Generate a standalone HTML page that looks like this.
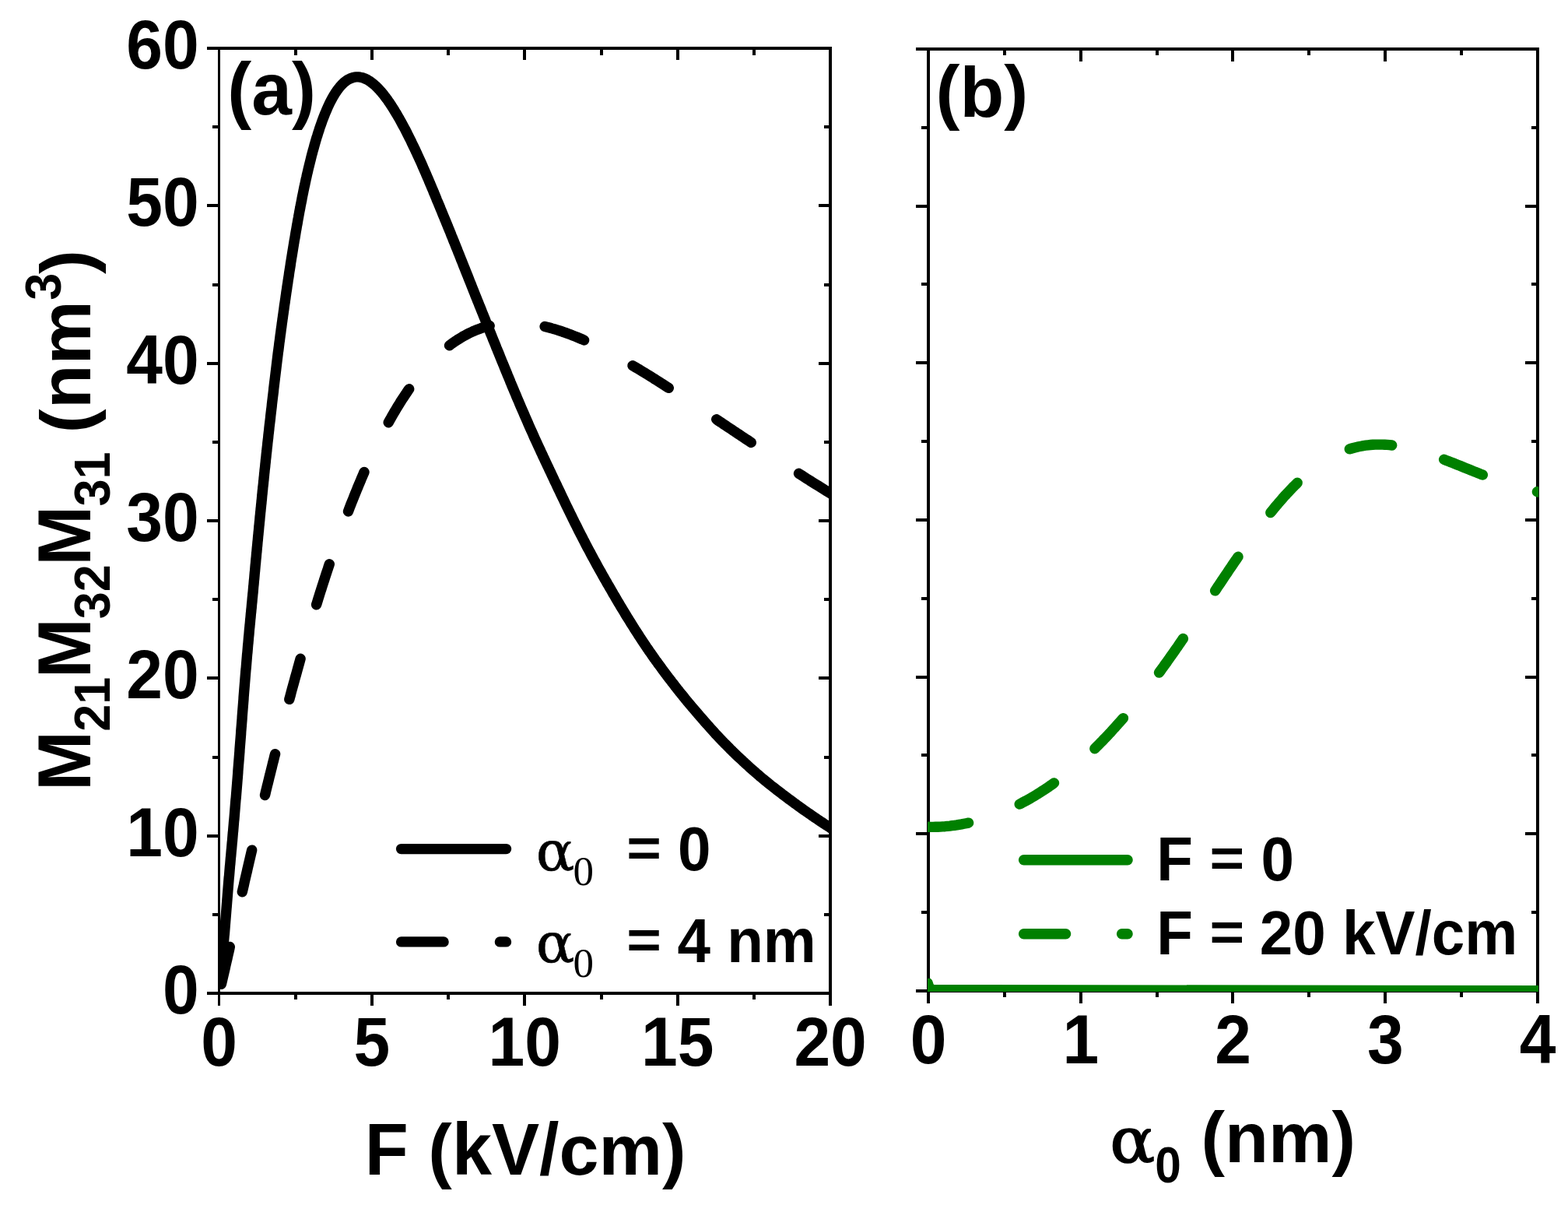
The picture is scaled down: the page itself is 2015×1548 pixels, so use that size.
<!DOCTYPE html>
<html lang="en"><head><meta charset="utf-8"><title>Figure: M21 M32 M31 versus F and alpha0</title>
<style>html,body{margin:0;padding:0;background:#fff;overflow:hidden}svg{display:block}text{font-family:"Liberation Sans",sans-serif;font-weight:bold;fill:#000;font-kerning:none;white-space:pre}.sy{font-family:"DejaVu Serif","Liberation Serif",serif;font-weight:normal}.syb{font-family:"DejaVu Serif","Liberation Serif",serif;font-weight:bold}.sr{font-family:"Liberation Serif",serif;font-weight:normal}.srb{font-family:"Liberation Serif",serif;font-weight:bold}</style></head><body>
<svg width="2015" height="1548" viewBox="0 0 2015 1548" role="img" aria-label="Two-panel plot of M21 M32 M31 (nm^3): (a) versus F (kV/cm), (b) versus alpha0 (nm)">
<rect width="2015" height="1548" fill="#fff"/>
<defs>
<clipPath id="ca"><rect x="283" y="64" width="782.2" height="1213.0"/></clipPath>
<clipPath id="cb"><rect x="1192" y="65" width="785.3" height="1209.0"/></clipPath>
</defs>
<g shape-rendering="crispEdges" fill="#000">
<rect x="280" y="60" width="3" height="1232"/>
<rect x="1065" y="60" width="4" height="1232"/>
<rect x="266" y="60" width="803" height="4"/>
<rect x="266" y="1274" width="803" height="4"/>
<rect x="378" y="60" width="4" height="11"/>
<rect x="378" y="1274" width="4" height="10"/>
<rect x="476" y="60" width="4" height="17"/>
<rect x="476" y="1274" width="4" height="18"/>
<rect x="574" y="60" width="4" height="11"/>
<rect x="574" y="1274" width="4" height="10"/>
<rect x="672" y="60" width="4" height="17"/>
<rect x="672" y="1274" width="4" height="18"/>
<rect x="771" y="60" width="4" height="11"/>
<rect x="771" y="1274" width="4" height="10"/>
<rect x="869" y="60" width="4" height="17"/>
<rect x="869" y="1274" width="4" height="18"/>
<rect x="967" y="60" width="4" height="11"/>
<rect x="967" y="1274" width="4" height="10"/>
<rect x="273" y="1173" width="10" height="4"/>
<rect x="1059" y="1173" width="10" height="4"/>
<rect x="266" y="1072" width="17" height="4"/>
<rect x="1052" y="1072" width="17" height="4"/>
<rect x="273" y="971" width="10" height="4"/>
<rect x="1059" y="971" width="10" height="4"/>
<rect x="266" y="869" width="17" height="4"/>
<rect x="1052" y="869" width="17" height="4"/>
<rect x="273" y="768" width="10" height="4"/>
<rect x="1059" y="768" width="10" height="4"/>
<rect x="266" y="667" width="17" height="4"/>
<rect x="1052" y="667" width="17" height="4"/>
<rect x="273" y="566" width="10" height="4"/>
<rect x="1059" y="566" width="10" height="4"/>
<rect x="266" y="465" width="17" height="4"/>
<rect x="1052" y="465" width="17" height="4"/>
<rect x="273" y="364" width="10" height="4"/>
<rect x="1059" y="364" width="10" height="4"/>
<rect x="266" y="262" width="17" height="4"/>
<rect x="1052" y="262" width="17" height="4"/>
<rect x="273" y="161" width="10" height="4"/>
<rect x="1059" y="161" width="10" height="4"/>
</g>
<g shape-rendering="crispEdges" fill="#000">
<rect x="1191" y="61" width="4" height="1228"/>
<rect x="1974" y="61" width="4" height="1228"/>
<rect x="1177" y="61" width="801" height="4"/>
<rect x="1177" y="1271" width="801" height="4"/>
<rect x="1289" y="61" width="4" height="10"/>
<rect x="1289" y="1271" width="4" height="10"/>
<rect x="1387" y="61" width="4" height="18"/>
<rect x="1387" y="1271" width="4" height="18"/>
<rect x="1485" y="61" width="4" height="10"/>
<rect x="1485" y="1271" width="4" height="10"/>
<rect x="1582" y="61" width="4" height="18"/>
<rect x="1582" y="1271" width="4" height="18"/>
<rect x="1680" y="61" width="4" height="10"/>
<rect x="1680" y="1271" width="4" height="10"/>
<rect x="1778" y="61" width="4" height="18"/>
<rect x="1778" y="1271" width="4" height="18"/>
<rect x="1876" y="61" width="4" height="10"/>
<rect x="1876" y="1271" width="4" height="10"/>
<rect x="1184" y="1170" width="11" height="4"/>
<rect x="1968" y="1170" width="10" height="4"/>
<rect x="1177" y="1069" width="18" height="4"/>
<rect x="1960" y="1069" width="18" height="4"/>
<rect x="1184" y="968" width="11" height="4"/>
<rect x="1968" y="968" width="10" height="4"/>
<rect x="1177" y="868" width="18" height="4"/>
<rect x="1960" y="868" width="18" height="4"/>
<rect x="1184" y="767" width="11" height="4"/>
<rect x="1968" y="767" width="10" height="4"/>
<rect x="1177" y="666" width="18" height="4"/>
<rect x="1960" y="666" width="18" height="4"/>
<rect x="1184" y="565" width="11" height="4"/>
<rect x="1968" y="565" width="10" height="4"/>
<rect x="1177" y="464" width="18" height="4"/>
<rect x="1960" y="464" width="18" height="4"/>
<rect x="1184" y="363" width="11" height="4"/>
<rect x="1968" y="363" width="10" height="4"/>
<rect x="1177" y="263" width="18" height="4"/>
<rect x="1960" y="263" width="18" height="4"/>
<rect x="1184" y="162" width="11" height="4"/>
<rect x="1968" y="162" width="10" height="4"/>
</g>
<g clip-path="url(#ca)" fill="none" stroke="#000" stroke-width="13.4" stroke-linejoin="round">
<path d="M284.4 1264.2 L285.1 1261.2 L285.8 1258.2 L286.5 1255.3 L287.2 1252.3 L287.9 1249.3 L288.6 1246.3 L289.3 1243.3 L289.9 1240.3 L290.6 1237.3 L291.3 1234.3 L292.0 1231.4 L292.6 1228.4 L293.3 1225.4 L294.0 1222.4 L294.7 1219.4 L295.3 1216.4 M311.3 1145.7 L312.0 1142.7 L312.7 1139.7 L313.4 1136.7 L314.0 1133.8 L314.7 1130.8 L315.4 1127.8 L316.1 1124.8 L316.8 1121.8 L317.5 1118.9 L318.1 1115.9 L318.8 1112.9 L319.5 1109.9 L320.2 1107.0 L320.9 1104.0 L321.6 1101.0 L322.3 1098.0 L323.0 1095.0 L323.7 1092.1 M340.5 1021.5 L341.2 1018.6 L341.9 1015.6 L342.6 1012.7 L343.3 1009.7 L344.1 1006.8 L344.8 1003.9 L345.5 1000.9 L346.2 998.0 L347.0 995.0 L347.7 992.1 L348.4 989.2 L349.2 986.2 L349.9 983.3 L350.6 980.3 L351.4 977.4 L352.1 974.5 L352.8 971.5 L353.6 968.6 M371.8 898.4 L372.6 895.5 L373.4 892.6 L374.1 889.7 L374.9 886.8 L375.7 883.9 L376.5 881.0 L377.3 878.1 L378.1 875.2 L378.9 872.3 L379.7 869.4 L380.5 866.6 L381.3 863.7 L382.1 860.8 L382.9 857.9 L383.7 855.0 L384.5 852.1 L385.3 849.2 L386.1 846.3 M406.6 776.8 L407.5 773.9 L408.4 771.0 L409.3 768.1 L410.2 765.2 L411.1 762.3 L412.0 759.4 L413.0 756.5 L413.9 753.6 L414.8 750.8 L415.7 747.9 L416.7 745.0 L417.6 742.1 L418.5 739.2 L419.5 736.3 L420.4 733.5 L421.4 730.6 L422.3 727.7 L423.3 724.8 M447.5 657.0 L448.5 654.2 L449.6 651.4 L450.7 648.5 L451.8 645.7 L453.0 642.9 L454.1 640.1 L455.2 637.3 L456.3 634.5 L457.5 631.7 L458.6 628.8 L459.8 626.0 L460.9 623.2 L462.1 620.5 L463.3 617.7 L464.4 614.9 L465.6 612.1 L466.8 609.3 L468.0 606.5 M499.2 542.7 L500.7 540.0 L502.3 537.2 L503.8 534.5 L505.4 531.7 L507.0 529.0 L508.6 526.3 L510.2 523.6 L511.9 520.9 L513.6 518.2 L515.2 515.5 L516.9 512.9 L518.7 510.2 L520.4 507.6 L522.2 505.0 L523.9 502.4 L525.7 499.8 M577.5 443.8 L579.9 442.0 L582.4 440.2 L584.9 438.5 L587.5 436.8 L590.1 435.2 L592.7 433.6 L595.3 432.0 L598.0 430.6 L600.7 429.1 L603.4 427.8 L606.2 426.5 L609.0 425.2 L611.8 424.1 L614.6 423.0 L617.5 421.9 L620.4 420.9 L623.3 420.0 L626.3 419.2 L629.2 418.5 M700.1 419.5 L703.1 420.2 L706.2 421.0 L709.2 421.9 L712.2 422.7 L715.2 423.6 L718.3 424.6 L721.2 425.5 L724.2 426.6 L727.2 427.6 L730.2 428.7 L733.1 429.8 L736.0 430.9 L739.0 432.1 L741.9 433.3 L744.8 434.5 L747.7 435.7 L750.6 437.0 M813.0 469.7 L815.6 471.2 L818.2 472.8 L820.8 474.3 L823.4 475.9 L826.0 477.5 L828.6 479.0 L831.2 480.6 L833.7 482.2 L836.3 483.8 L838.9 485.4 L841.4 487.0 L844.0 488.6 L846.6 490.2 L849.1 491.9 L851.7 493.5 L854.2 495.1 L856.8 496.8 L859.3 498.4 M920.7 538.8 L923.4 540.6 L926.0 542.3 L928.6 544.1 L931.2 545.8 L933.8 547.6 L936.5 549.3 L939.1 551.0 L941.7 552.8 L944.3 554.5 L946.9 556.3 L949.6 558.0 L952.2 559.8 L954.8 561.5 L957.4 563.3 L960.1 565.0 L962.7 566.7 L965.3 568.5 M1026.5 608.3 L1029.0 609.9 L1031.6 611.5 L1034.1 613.2 L1036.6 614.8 L1039.2 616.4 L1041.7 618.0 L1044.2 619.6 L1046.8 621.2 L1049.3 622.7 L1051.9 624.3 L1054.4 625.9 L1057.0 627.5 L1059.5 629.1 L1062.1 630.7 L1064.6 632.2 L1067.2 633.8 L1069.7 635.4 L1072.3 637.0 L1074.9 638.5" stroke-linecap="round"/>
<path d="M284.0 1249.6 L284.2 1247.1 L284.5 1244.6 L284.7 1242.1 L284.9 1239.6 L285.1 1237.2 L285.3 1234.7 L285.5 1232.2 L285.8 1229.7 L286.0 1227.2 L286.2 1224.7 L286.4 1222.2 L286.6 1219.7 L286.9 1217.2 L287.1 1214.7 L287.3 1212.2 L287.5 1209.7 L287.7 1207.2 L287.9 1204.8 L288.1 1202.3 L288.4 1199.8 L288.6 1197.3 L288.8 1194.8 L289.0 1192.3 L289.2 1189.8 L289.4 1187.3 L289.6 1184.8 L289.8 1182.3 L290.0 1179.8 L290.2 1177.3 L290.4 1174.8 L290.6 1172.3 L290.8 1169.8 L291.0 1167.3 L291.2 1164.9 L291.4 1162.4 L291.6 1159.9 L291.8 1157.4 L292.0 1154.9 L292.2 1152.4 L292.4 1149.9 L292.6 1147.4 L292.8 1144.9 L293.0 1142.4 L293.2 1139.9 L293.4 1137.4 L293.6 1134.9 L293.8 1132.4 L294.0 1129.9 L294.2 1127.4 L294.5 1125.0 L294.7 1122.5 L294.9 1120.0 L295.1 1117.5 L295.3 1115.0 L295.5 1112.5 L295.8 1110.0 L296.0 1107.5 L296.2 1105.0 L296.4 1102.5 L296.7 1100.0 L296.9 1097.5 L297.1 1095.0 L297.3 1092.6 L297.6 1090.1 L297.8 1087.6 L298.0 1085.1 L298.2 1082.6 L298.5 1080.1 L298.7 1077.6 L298.9 1075.1 L299.1 1072.6 L299.3 1070.1 L299.6 1067.6 L299.8 1065.1 L300.0 1062.6 L300.2 1060.2 L300.4 1057.7 L300.6 1055.2 L300.9 1052.7 L301.1 1050.2 L301.3 1047.7 L301.5 1045.2 L301.7 1042.7 L301.9 1040.2 L302.1 1037.7 L302.3 1035.2 L302.5 1032.7 L302.7 1030.2 L302.9 1027.7 L303.2 1025.2 L303.4 1022.8 L303.6 1020.3 L303.8 1017.8 L304.0 1015.3 L304.2 1012.8 L304.4 1010.3 L304.6 1007.8 L304.8 1005.3 L305.0 1002.8 L305.2 1000.3 L305.4 997.8 L305.6 995.3 L305.8 992.8 L305.9 990.3 L306.1 987.8 L306.3 985.3 L306.5 982.8 L306.7 980.4 L306.9 977.9 L307.1 975.4 L307.3 972.9 L307.5 970.4 L307.7 967.9 L307.9 965.4 L308.0 962.9 L308.2 960.4 L308.4 957.9 L308.6 955.4 L308.8 952.9 L309.0 950.4 L309.2 947.9 L309.4 945.4 L309.6 942.9 L309.7 940.4 L309.9 937.9 L310.1 935.4 L310.3 933.0 L310.5 930.5 L310.7 928.0 L310.9 925.5 L311.1 923.0 L311.2 920.5 L311.4 918.0 L311.6 915.5 L311.8 913.0 L312.0 910.5 L312.2 908.0 L312.4 905.5 L312.6 903.0 L312.8 900.5 L313.0 898.0 L313.1 895.5 L313.3 893.0 L313.5 890.5 L313.7 888.0 L313.9 885.6 L314.1 883.1 L314.3 880.6 L314.5 878.1 L314.7 875.6 L314.9 873.1 L315.1 870.6 L315.3 868.1 L315.5 865.6 L315.7 863.1 L315.9 860.6 L316.2 858.1 L316.4 855.6 L316.6 853.1 L316.8 850.6 L317.0 848.1 L317.2 845.7 L317.4 843.2 L317.6 840.7 L317.9 838.2 L318.1 835.7 L318.3 833.2 L318.5 830.7 L318.7 828.2 L319.0 825.7 L319.2 823.2 L319.4 820.7 L319.6 818.2 L319.9 815.7 L320.1 813.3 L320.3 810.8 L320.5 808.3 L320.8 805.8 L321.0 803.3 L321.3 800.8 L321.5 798.3 L321.7 795.8 L322.0 793.3 L322.2 790.8 L322.4 788.3 L322.7 785.9 L322.9 783.4 L323.2 780.9 L323.4 778.4 L323.6 775.9 L323.9 773.4 L324.1 770.9 L324.3 768.4 L324.6 765.9 L324.8 763.4 L325.1 760.9 L325.3 758.5 L325.5 756.0 L325.7 753.5 L326.0 751.0 L326.2 748.5 L326.4 746.0 L326.7 743.5 L326.9 741.0 L327.1 738.5 L327.3 736.0 L327.6 733.5 L327.8 731.0 L328.0 728.6 L328.2 726.1 L328.5 723.6 L328.7 721.1 L328.9 718.6 L329.2 716.1 L329.4 713.6 L329.6 711.1 L329.9 708.6 L330.1 706.1 L330.3 703.6 L330.6 701.2 L330.8 698.7 L331.0 696.2 L331.3 693.7 L331.5 691.2 L331.7 688.7 L332.0 686.2 L332.2 683.7 L332.5 681.2 L332.7 678.7 L332.9 676.2 L333.2 673.8 L333.4 671.3 L333.7 668.8 L333.9 666.3 L334.1 663.8 L334.4 661.3 L334.6 658.8 L334.9 656.3 L335.1 653.8 L335.4 651.3 L335.6 648.9 L335.9 646.4 L336.1 643.9 L336.4 641.4 L336.6 638.9 L336.8 636.4 L337.1 633.9 L337.3 631.4 L337.6 628.9 L337.8 626.4 L338.1 624.0 L338.4 621.5 L338.6 619.0 L338.9 616.5 L339.1 614.0 L339.4 611.5 L339.6 609.0 L339.9 606.5 L340.1 604.0 L340.4 601.6 L340.7 599.1 L340.9 596.6 L341.2 594.1 L341.4 591.6 L341.7 589.1 L342.0 586.6 L342.2 584.1 L342.5 581.6 L342.8 579.2 L343.0 576.7 L343.3 574.2 L343.6 571.7 L343.8 569.2 L344.1 566.7 L344.4 564.2 L344.7 561.8 L344.9 559.3 L345.2 556.8 L345.5 554.3 L345.8 551.8 L346.0 549.3 L346.3 546.8 L346.6 544.3 L346.9 541.9 L347.2 539.4 L347.5 536.9 L347.7 534.4 L348.0 531.9 L348.3 529.4 L348.6 526.9 L348.9 524.5 L349.2 522.0 L349.4 519.5 L349.7 517.0 L350.0 514.5 L350.3 512.0 L350.6 509.5 L350.9 507.1 L351.2 504.6 L351.5 502.1 L351.7 499.6 L352.0 497.1 L352.3 494.6 L352.6 492.1 L352.9 489.7 L353.2 487.2 L353.5 484.7 L353.8 482.2 L354.1 479.7 L354.4 477.2 L354.7 474.8 L355.0 472.3 L355.3 469.8 L355.6 467.3 L355.9 464.8 L356.2 462.3 L356.5 459.9 L356.8 457.4 L357.1 454.9 L357.4 452.4 L357.8 449.9 L358.1 447.4 L358.4 445.0 L358.7 442.5 L359.0 440.0 L359.4 437.5 L359.7 435.0 L360.0 432.6 L360.3 430.1 L360.7 427.6 L361.0 425.1 L361.3 422.6 L361.7 420.2 L362.0 417.7 L362.3 415.2 L362.7 412.7 L363.0 410.2 L363.4 407.8 L363.7 405.3 L364.1 402.8 L364.4 400.3 L364.8 397.8 L365.1 395.4 L365.4 392.9 L365.8 390.4 L366.2 387.9 L366.5 385.5 L366.9 383.0 L367.2 380.5 L367.6 378.0 L367.9 375.6 L368.3 373.1 L368.7 370.6 L369.0 368.1 L369.4 365.7 L369.8 363.2 L370.1 360.7 L370.5 358.2 L370.9 355.8 L371.3 353.3 L371.6 350.8 L372.0 348.3 L372.4 345.9 L372.8 343.4 L373.2 340.9 L373.5 338.4 L373.9 336.0 L374.3 333.5 L374.7 331.0 L375.1 328.6 L375.5 326.1 L375.9 323.6 L376.3 321.2 L376.7 318.7 L377.1 316.2 L377.5 313.7 L377.9 311.3 L378.3 308.8 L378.8 306.3 L379.2 303.9 L379.6 301.4 L380.0 298.9 L380.4 296.5 L380.9 294.0 L381.3 291.5 L381.7 289.1 L382.2 286.6 L382.6 284.2 L383.0 281.7 L383.5 279.2 L383.9 276.8 L384.4 274.3 L384.8 271.8 L385.3 269.4 L385.8 266.9 L386.2 264.5 L386.7 262.0 L387.2 259.6 L387.7 257.1 L388.1 254.6 L388.6 252.2 L389.1 249.7 L389.6 247.3 L390.1 244.8 L390.6 242.4 L391.1 239.9 L391.7 237.5 L392.2 235.0 L392.7 232.6 L393.2 230.2 L393.8 227.7 L394.3 225.3 L394.9 222.8 L395.5 220.4 L396.0 218.0 L396.6 215.5 L397.2 213.1 L397.8 210.7 L398.4 208.2 L399.0 205.8 L399.6 203.4 L400.2 200.9 L400.8 198.5 L401.5 196.1 L402.1 193.7 L402.8 191.3 L403.5 188.9 L404.1 186.5 L404.8 184.1 L405.5 181.6 L406.2 179.3 L406.9 176.9 L407.7 174.5 L408.4 172.1 L409.2 169.7 L410.0 167.3 L410.7 164.9 L411.5 162.6 L412.4 160.2 L413.2 157.8 L414.0 155.5 L414.9 153.1 L415.8 150.8 L416.7 148.5 L417.6 146.1 L418.6 143.8 L419.6 141.5 L420.6 139.2 L421.6 136.9 L422.6 134.7 L423.7 132.4 L424.8 130.2 L426.0 128.0 L427.2 125.8 L428.4 123.6 L429.7 121.5 L431.0 119.3 L432.4 117.3 L433.9 115.2 L435.4 113.2 L437.0 111.3 L438.7 109.4 L440.4 107.6 L442.2 105.9 L444.2 104.4 L446.2 102.9 L448.4 101.7 L450.7 100.6 L453.0 99.8 L455.5 99.2 L457.9 98.9 L460.4 98.9 L462.9 99.2 L465.4 99.7 L467.7 100.5 L470.1 101.5 L472.3 102.6 L474.4 103.9 L476.5 105.3 L478.5 106.8 L480.4 108.4 L482.3 110.0 L484.1 111.8 L485.9 113.6 L487.6 115.4 L489.2 117.2 L490.9 119.2 L492.5 121.1 L494.0 123.1 L495.5 125.0 L497.0 127.1 L498.5 129.1 L499.9 131.2 L501.3 133.2 L502.7 135.3 L504.0 137.4 L505.4 139.5 L506.7 141.6 L508.0 143.8 L509.3 145.9 L510.6 148.1 L511.8 150.2 L513.1 152.4 L514.3 154.6 L515.5 156.8 L516.7 159.0 L517.9 161.2 L519.1 163.4 L520.3 165.6 L521.4 167.8 L522.6 170.0 L523.7 172.3 L524.8 174.5 L525.9 176.7 L527.1 179.0 L528.2 181.2 L529.2 183.5 L530.3 185.7 L531.4 188.0 L532.5 190.2 L533.6 192.5 L534.6 194.8 L535.7 197.0 L536.7 199.3 L537.8 201.6 L538.8 203.9 L539.8 206.1 L540.9 208.4 L541.9 210.7 L542.9 213.0 L543.9 215.3 L544.9 217.6 L545.9 219.9 L546.9 222.2 L547.9 224.5 L548.9 226.8 L549.9 229.1 L550.9 231.4 L551.8 233.7 L552.8 236.0 L553.8 238.3 L554.7 240.6 L555.7 242.9 L556.7 245.2 L557.6 247.5 L558.6 249.8 L559.5 252.1 L560.5 254.4 L561.4 256.8 L562.4 259.1 L563.4 261.4 L564.3 263.7 L565.3 266.0 L566.2 268.3 L567.2 270.6 L568.1 272.9 L569.1 275.3 L570.0 277.6 L571.0 279.9 L571.9 282.2 L572.9 284.5 L573.8 286.8 L574.8 289.2 L575.7 291.5 L576.7 293.8 L577.6 296.1 L578.6 298.4 L579.5 300.7 L580.4 303.1 L581.4 305.4 L582.3 307.7 L583.2 310.0 L584.2 312.3 L585.1 314.7 L586.0 317.0 L587.0 319.3 L587.9 321.6 L588.8 324.0 L589.8 326.3 L590.7 328.6 L591.6 330.9 L592.5 333.2 L593.5 335.6 L594.4 337.9 L595.3 340.2 L596.2 342.5 L597.2 344.9 L598.1 347.2 L599.0 349.5 L599.9 351.8 L600.9 354.2 L601.8 356.5 L602.7 358.8 L603.6 361.1 L604.6 363.5 L605.5 365.8 L606.4 368.1 L607.3 370.4 L608.3 372.8 L609.2 375.1 L610.1 377.4 L611.0 379.7 L612.0 382.1 L612.9 384.4 L613.8 386.7 L614.8 389.0 L615.7 391.4 L616.6 393.7 L617.6 396.0 L618.5 398.3 L619.4 400.6 L620.4 403.0 L621.3 405.3 L622.2 407.6 L623.2 409.9 L624.1 412.3 L625.0 414.6 L626.0 416.9 L626.9 419.2 L627.8 421.5 L628.8 423.9 L629.7 426.2 L630.6 428.5 L631.6 430.8 L632.5 433.1 L633.4 435.5 L634.4 437.8 L635.3 440.1 L636.3 442.4 L637.2 444.7 L638.1 447.1 L639.1 449.4 L640.0 451.7 L641.0 454.0 L641.9 456.3 L642.8 458.6 L643.8 461.0 L644.7 463.3 L645.7 465.6 L646.6 467.9 L647.6 470.2 L648.5 472.5 L649.5 474.9 L650.4 477.2 L651.4 479.5 L652.3 481.8 L653.3 484.1 L654.2 486.4 L655.2 488.7 L656.1 491.1 L657.1 493.4 L658.0 495.7 L659.0 498.0 L660.0 500.3 L660.9 502.6 L661.9 504.9 L662.9 507.2 L663.8 509.5 L664.8 511.8 L665.8 514.1 L666.8 516.4 L667.7 518.7 L668.7 521.0 L669.7 523.3 L670.7 525.6 L671.7 527.9 L672.7 530.2 L673.7 532.5 L674.7 534.8 L675.7 537.1 L676.7 539.4 L677.7 541.7 L678.7 544.0 L679.7 546.3 L680.7 548.6 L681.7 550.9 L682.7 553.1 L683.8 555.4 L684.8 557.7 L685.8 560.0 L686.8 562.3 L687.9 564.6 L688.9 566.8 L690.0 569.1 L691.0 571.4 L692.0 573.6 L693.1 575.9 L694.2 578.2 L695.2 580.5 L696.3 582.7 L697.3 585.0 L698.4 587.3 L699.5 589.5 L700.5 591.8 L701.6 594.1 L702.6 596.3 L703.7 598.6 L704.8 600.8 L705.8 603.1 L706.9 605.4 L708.0 607.6 L709.0 609.9 L710.1 612.2 L711.2 614.4 L712.2 616.7 L713.3 618.9 L714.4 621.2 L715.5 623.5 L716.5 625.7 L717.6 628.0 L718.7 630.2 L719.8 632.5 L720.8 634.8 L721.9 637.0 L723.0 639.3 L724.1 641.5 L725.2 643.8 L726.2 646.0 L727.3 648.3 L728.4 650.6 L729.5 652.8 L730.6 655.1 L731.7 657.3 L732.8 659.6 L733.9 661.8 L735.0 664.0 L736.1 666.3 L737.2 668.5 L738.3 670.8 L739.4 673.0 L740.6 675.2 L741.7 677.5 L742.8 679.7 L743.9 682.0 L745.1 684.2 L746.2 686.4 L747.3 688.6 L748.5 690.9 L749.6 693.1 L750.8 695.3 L751.9 697.5 L753.1 699.8 L754.2 702.0 L755.4 704.2 L756.6 706.4 L757.8 708.6 L758.9 710.8 L760.1 713.0 L761.3 715.2 L762.5 717.4 L763.7 719.6 L764.9 721.8 L766.1 724.0 L767.3 726.2 L768.5 728.4 L769.7 730.6 L771.0 732.8 L772.2 734.9 L773.4 737.1 L774.6 739.3 L775.9 741.5 L777.1 743.7 L778.3 745.8 L779.6 748.0 L780.8 750.2 L782.1 752.3 L783.3 754.5 L784.6 756.7 L785.8 758.8 L787.1 761.0 L788.3 763.2 L789.6 765.3 L790.9 767.5 L792.1 769.6 L793.4 771.8 L794.7 774.0 L796.0 776.1 L797.2 778.3 L798.5 780.4 L799.8 782.5 L801.1 784.7 L802.4 786.8 L803.7 789.0 L805.0 791.1 L806.3 793.2 L807.6 795.3 L809.0 797.5 L810.3 799.6 L811.6 801.7 L812.9 803.8 L814.3 806.0 L815.6 808.1 L817.0 810.2 L818.3 812.3 L819.7 814.4 L821.0 816.5 L822.4 818.6 L823.8 820.7 L825.1 822.8 L826.5 824.9 L827.9 826.9 L829.3 829.0 L830.7 831.1 L832.1 833.2 L833.5 835.2 L834.9 837.3 L836.4 839.3 L837.8 841.4 L839.2 843.4 L840.7 845.5 L842.1 847.5 L843.6 849.6 L845.1 851.6 L846.5 853.6 L848.0 855.6 L849.5 857.6 L851.0 859.7 L852.5 861.7 L854.0 863.7 L855.5 865.7 L857.0 867.7 L858.5 869.7 L860.0 871.7 L861.5 873.6 L863.0 875.6 L864.6 877.6 L866.1 879.6 L867.6 881.6 L869.2 883.5 L870.7 885.5 L872.3 887.4 L873.8 889.4 L875.4 891.4 L877.0 893.3 L878.6 895.3 L880.1 897.2 L881.7 899.1 L883.3 901.1 L884.9 903.0 L886.5 904.9 L888.1 906.8 L889.7 908.7 L891.4 910.6 L893.0 912.5 L894.6 914.4 L896.2 916.3 L897.9 918.2 L899.5 920.1 L901.2 922.0 L902.8 923.9 L904.4 925.8 L906.1 927.7 L907.7 929.5 L909.4 931.4 L911.1 933.3 L912.7 935.2 L914.4 937.0 L916.1 938.9 L917.8 940.7 L919.4 942.6 L921.1 944.4 L922.8 946.2 L924.6 948.1 L926.3 949.9 L928.0 951.7 L929.8 953.5 L931.5 955.3 L933.3 957.1 L935.0 958.8 L936.8 960.6 L938.6 962.4 L940.3 964.1 L942.1 965.9 L943.9 967.6 L945.7 969.4 L947.5 971.1 L949.3 972.8 L951.2 974.5 L953.0 976.2 L954.8 977.9 L956.7 979.6 L958.5 981.3 L960.4 983.0 L962.2 984.7 L964.1 986.4 L965.9 988.0 L967.8 989.7 L969.7 991.3 L971.6 993.0 L973.5 994.6 L975.4 996.2 L977.3 997.9 L979.2 999.5 L981.1 1001.1 L983.1 1002.7 L985.0 1004.2 L986.9 1005.8 L988.9 1007.4 L990.8 1009.0 L992.8 1010.5 L994.8 1012.1 L996.7 1013.6 L998.7 1015.2 L1000.7 1016.7 L1002.7 1018.2 L1004.7 1019.7 L1006.6 1021.2 L1008.6 1022.7 L1010.6 1024.2 L1012.6 1025.7 L1014.7 1027.2 L1016.7 1028.7 L1018.7 1030.2 L1020.7 1031.7 L1022.7 1033.1 L1024.8 1034.6 L1026.8 1036.1 L1028.8 1037.5 L1030.9 1039.0 L1032.9 1040.4 L1035.0 1041.9 L1037.0 1043.3 L1039.1 1044.7 L1041.1 1046.1 L1043.2 1047.6 L1045.3 1049.0 L1047.3 1050.4 L1049.4 1051.8 L1051.5 1053.2 L1053.5 1054.6 L1055.6 1056.0 L1057.7 1057.3 L1059.8 1058.7 L1061.9 1060.1 L1064.0 1061.4 L1066.1 1062.8 L1068.2 1064.2 L1070.3 1065.5 L1072.4 1066.9" stroke-linecap="round"/>
</g>
<g clip-path="url(#cb)" fill="none" stroke="#008000" stroke-width="13.4" stroke-linejoin="round">
<path d="M1192 1273.95 V1256.9 H1195.7 L1196.9 1258 L1198.1 1259.8 L1199 1262.2 L1199.6 1264.2 L1200.5 1265 L1977.3 1265.9 V1273.95 Z" fill="#008000" stroke="none"/>
<path d="M1193.0 1062.3 L1196.1 1062.4 L1199.1 1062.4 L1202.2 1062.3 L1205.2 1062.2 L1208.3 1062.1 L1211.4 1061.9 L1214.4 1061.7 L1217.5 1061.4 L1220.5 1061.1 L1223.5 1060.7 L1226.6 1060.3 L1229.6 1059.9 L1232.6 1059.4 L1235.6 1058.9 L1238.6 1058.3 L1241.6 1057.7 L1244.6 1057.1 M1310.2 1033.1 L1312.9 1031.7 L1315.6 1030.2 L1318.3 1028.8 L1321.0 1027.3 L1323.7 1025.8 L1326.3 1024.3 L1329.0 1022.7 L1331.6 1021.1 L1334.2 1019.5 L1336.8 1017.9 L1339.4 1016.2 L1341.9 1014.6 L1344.5 1012.9 L1347.0 1011.2 L1349.5 1009.4 L1352.0 1007.7 L1354.5 1005.9 M1406.8 961.7 L1409.0 959.5 L1411.3 957.2 L1413.5 955.0 L1415.7 952.8 L1417.9 950.5 L1420.1 948.2 L1422.3 946.0 L1424.4 943.7 L1426.6 941.4 L1428.7 939.1 L1430.8 936.7 L1432.9 934.4 L1435.0 932.1 L1437.1 929.7 L1439.2 927.3 L1441.3 925.0 L1443.4 922.6 M1489.5 864.1 L1491.4 861.6 L1493.2 859.0 L1495.1 856.5 L1496.9 853.9 L1498.8 851.4 L1500.6 848.8 L1502.4 846.2 L1504.2 843.7 L1506.0 841.1 L1507.9 838.5 L1509.7 835.9 L1511.5 833.3 L1513.3 830.8 L1515.0 828.2 L1516.8 825.6 L1518.6 823.0 L1520.4 820.4 M1561.6 758.9 L1563.3 756.3 L1565.0 753.7 L1566.7 751.2 L1568.5 748.6 L1570.2 746.0 L1571.9 743.5 L1573.6 740.9 L1575.3 738.3 L1577.1 735.8 L1578.8 733.2 L1580.5 730.6 L1582.3 728.1 L1584.0 725.5 L1585.7 723.0 L1587.5 720.4 L1589.2 717.9 L1591.0 715.3 M1632.8 658.5 L1634.7 656.2 L1636.6 653.8 L1638.5 651.5 L1640.5 649.2 L1642.4 646.9 L1644.4 644.6 L1646.4 642.3 L1648.4 640.0 L1650.4 637.7 L1652.5 635.5 L1654.5 633.3 L1656.6 631.1 L1658.7 628.9 L1660.8 626.7 L1662.9 624.5 L1665.1 622.4 L1667.2 620.3 M1734.3 576.9 L1737.2 576.0 L1740.1 575.2 L1743.1 574.5 L1746.1 573.8 L1749.1 573.2 L1752.1 572.6 L1755.1 572.2 L1758.2 571.8 L1761.2 571.5 L1764.2 571.3 L1767.3 571.1 L1770.4 571.1 L1773.4 571.1 L1776.5 571.1 L1779.5 571.2 L1782.6 571.4 L1785.6 571.7 L1788.7 572.0 M1855.6 590.3 L1858.5 591.4 L1861.4 592.5 L1864.4 593.7 L1867.3 594.8 L1870.2 596.0 L1873.2 597.2 L1876.1 598.3 L1879.0 599.5 L1881.9 600.7 L1884.8 601.9 L1887.8 603.0 L1890.7 604.2 L1893.6 605.4 L1896.5 606.5 L1899.5 607.7 L1902.4 608.9 L1905.3 610.0 M1975.4 631.8 L1978.9 632.5 L1982.3 633.1 L1985.8 633.6" stroke-linecap="round"/>
</g>
<text transform="translate(255.65 1302.00) scale(1.000 1.057)" font-size="84.00" text-anchor="end">0</text>
<text transform="translate(255.65 1099.67) scale(1.000 1.057)" font-size="84.00" text-anchor="end">10</text>
<text transform="translate(255.65 897.34) scale(1.000 1.057)" font-size="84.00" text-anchor="end">20</text>
<text transform="translate(255.65 695.01) scale(1.000 1.057)" font-size="84.00" text-anchor="end">30</text>
<text transform="translate(255.65 492.68) scale(1.000 1.057)" font-size="84.00" text-anchor="end">40</text>
<text transform="translate(255.65 290.35) scale(1.000 1.057)" font-size="84.00" text-anchor="end">50</text>
<text transform="translate(255.65 88.02) scale(1.000 1.057)" font-size="84.00" text-anchor="end">60</text>
<text transform="translate(281.50 1368.80) scale(1.000 1.057)" font-size="84.00" text-anchor="middle">0</text>
<text transform="translate(477.90 1368.80) scale(1.000 1.057)" font-size="84.00" text-anchor="middle">5</text>
<text transform="translate(674.30 1368.80) scale(1.000 1.057)" font-size="84.00" text-anchor="middle">10</text>
<text transform="translate(870.70 1368.80) scale(1.000 1.057)" font-size="84.00" text-anchor="middle">15</text>
<text transform="translate(1067.10 1368.80) scale(1.000 1.057)" font-size="84.00" text-anchor="middle">20</text>
<text transform="translate(1193.00 1365.80) scale(1.000 1.057)" font-size="84.00" text-anchor="middle">0</text>
<text transform="translate(1388.75 1365.80) scale(1.000 1.057)" font-size="84.00" text-anchor="middle">1</text>
<text transform="translate(1584.50 1365.80) scale(1.000 1.057)" font-size="84.00" text-anchor="middle">2</text>
<text transform="translate(1780.25 1365.80) scale(1.000 1.057)" font-size="84.00" text-anchor="middle">3</text>
<text transform="translate(1976.00 1365.80) scale(1.000 1.057)" font-size="84.00" text-anchor="middle">4</text>
<text transform="translate(292.27 146.60) scale(1.000 1.012)" font-size="93.00">(a)</text>
<text transform="translate(1202.47 148.70)" font-size="93.00">(</text>
<text transform="translate(1233.44 149.70) scale(1.000 0.985)" font-size="93.00">b</text>
<text transform="translate(1290.25 148.70)" font-size="93.00">)</text>
<text transform="translate(468.87 1509.00) scale(1.000 1.040)" font-size="91.70">F</text>
<text transform="translate(524.88 1509.30) scale(1.000 1.020)" font-size="91.70"> (</text>
<text transform="translate(580.89 1509.00) scale(1.000 1.040)" font-size="91.70">kV/</text>
<text transform="translate(718.53 1509.00)" font-size="91.70">cm</text>
<text transform="translate(851.07 1509.30) scale(1.000 1.020)" font-size="91.70">)</text>
<text transform="translate(1426.22 1493.00) scale(1.000 0.930)" font-size="86.00" class="sy" stroke="#000" stroke-width="1.6" stroke-linejoin="round">α</text>
<text transform="translate(1484.31 1518.60) scale(0.930 1.000)" font-size="65.00">0</text>
<text transform="translate(1543.43 1493.30) scale(1.000 1.020)" font-size="91.70">(</text>
<text transform="translate(1573.97 1493.00)" font-size="91.70">nm</text>
<text transform="translate(1711.52 1493.30) scale(1.000 1.020)" font-size="91.70">)</text>
<text transform="translate(116.00 1015.89) rotate(-90) scale(1.000 1.040)" font-size="92.50">M</text>
<text transform="translate(141.00 939.83) rotate(-90) scale(1.000 1.040)" font-size="63.00">21</text>
<text transform="translate(116.00 871.26) rotate(-90) scale(1.000 1.040)" font-size="92.50">M</text>
<text transform="translate(141.00 795.21) rotate(-90) scale(1.000 1.040)" font-size="63.00">32</text>
<text transform="translate(116.00 726.63) rotate(-90) scale(1.000 1.040)" font-size="92.50">M</text>
<text transform="translate(141.00 650.58) rotate(-90) scale(1.000 1.040)" font-size="63.00">31</text>
<text transform="translate(116.80 582.00) rotate(-90) scale(1.000 1.005)" font-size="92.50"> (</text>
<text transform="translate(116.00 525.00) rotate(-90)" font-size="92.50">nm</text>
<text transform="translate(77.50 385.75) rotate(-90) scale(1.000 1.040)" font-size="63.00">3</text>
<text transform="translate(116.80 351.91) rotate(-90) scale(1.000 1.005)" font-size="92.50">)</text>
<g fill="none" stroke-width="13.4" stroke-linecap="round">
<path d="M515.6 1090.6 H650.5" stroke="#000"/>
<path d="M515.6 1209.9 H650.5" stroke="#000" stroke-dasharray="54.5 72.3"/>
<path d="M1315.6 1104.7 H1449.1" stroke="#008000"/>
<path d="M1315.6 1199.7 H1449.1" stroke="#008000" stroke-dasharray="54.0 72.0"/>
</g>
<text transform="translate(688.64 1117.70) scale(1.000 0.966)" font-size="73.50" class="sy" stroke="#000" stroke-width="0.6">α</text>
<text transform="translate(736.48 1137.30)" font-size="53.00" class="sr">0</text>
<text transform="translate(805.33 1113.10) scale(1.000 0.890)" font-size="76.40">=</text>
<text transform="translate(870.98 1118.00) scale(1.000 1.040)" font-size="76.40">0</text>
<text transform="translate(688.64 1235.70) scale(1.000 0.966)" font-size="73.50" class="sy" stroke="#000" stroke-width="0.6">α</text>
<text transform="translate(736.48 1255.30)" font-size="53.00" class="sr">0</text>
<text transform="translate(805.33 1231.10) scale(1.000 0.890)" font-size="76.40">=</text>
<text transform="translate(870.44 1236.00) scale(1.000 1.040)" font-size="76.40">4 nm</text>
<text transform="translate(1486.29 1131.00) scale(1.000 1.040)" font-size="76.40">F</text>
<text transform="translate(1554.53 1126.10) scale(1.000 0.890)" font-size="76.40">=</text>
<text transform="translate(1620.58 1131.00) scale(1.000 1.040)" font-size="76.40">0</text>
<text transform="translate(1486.29 1226.00) scale(1.000 1.040)" font-size="76.40">F</text>
<text transform="translate(1554.53 1221.10) scale(1.000 0.890)" font-size="76.40">=</text>
<text transform="translate(1618.85 1226.00) scale(1.000 1.040)" font-size="76.40">20 kV/cm</text>
</svg></body></html>
